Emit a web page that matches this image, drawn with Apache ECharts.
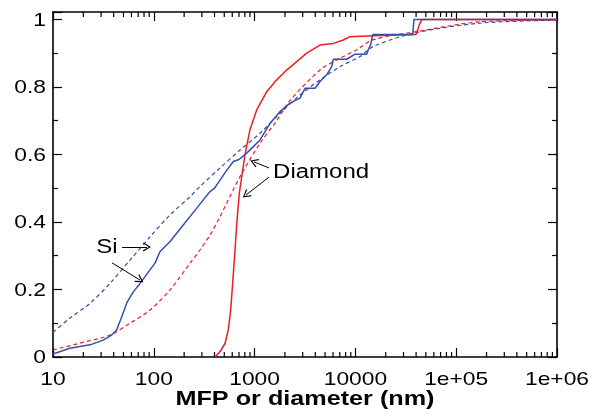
<!DOCTYPE html>
<html><head><meta charset="utf-8">
<script src="https://cdn.jsdelivr.net/npm/echarts@6/dist/echarts.min.js"></script>
<style>html,body{margin:0;padding:0;background:#fff}#c{width:605px;height:418px}</style>
</head><body><div id="c"></div>
<script>
// Si MFP accumulation (blue solid)
const siMfpX = [10, 14.7, 23.3, 31.5, 38.2, 42.8, 48.1, 53.9, 62.6, 73, 91.6, 102.8, 115, 145, 196, 267, 361, 400, 454, 520, 615, 700, 835, 1132, 1423, 1787, 2245, 2820, 3162, 3973, 4457, 5190, 5820, 6040, 8200, 9910, 12940, 13430, 14190, 14860, 37000, 38100, 1000000];
const siMfpY = [0.009, 0.026, 0.036, 0.050, 0.065, 0.080, 0.119, 0.160, 0.193, 0.218, 0.258, 0.278, 0.312, 0.342, 0.391, 0.441, 0.490, 0.500, 0.524, 0.550, 0.579, 0.585, 0.604, 0.643, 0.692, 0.727, 0.752, 0.767, 0.796, 0.796, 0.816, 0.836, 0.860, 0.882, 0.882, 0.897, 0.897, 0.910, 0.926, 0.955, 0.955, 1.0, 1.0];
// Diamond MFP accumulation (red solid)
const diaMfpX = [405, 454, 509, 548, 579, 606, 639, 674, 705, 745, 804, 899, 1049, 1319, 1657, 2081, 2616, 3288, 4457, 6040, 7590, 8840, 14800, 15070, 39800, 41500, 43100, 45500, 1000000];
const diaMfpY = [0, 0.016, 0.04, 0.08, 0.139, 0.218, 0.317, 0.416, 0.485, 0.534, 0.600, 0.673, 0.732, 0.786, 0.821, 0.850, 0.875, 0.900, 0.924, 0.929, 0.939, 0.949, 0.952, 0.955, 0.955, 0.969, 0.984, 1.0, 1.0];
// Si diameter accumulation (blue dashed)
const siDiamX = [10, 14.7, 23.3, 36.7, 58.1, 91.6, 145, 229, 287, 454, 716, 1132, 1787, 2820, 4457, 7030, 11120, 15070, 37600, 172000, 1000000];
const siDiamY = [0.073, 0.115, 0.159, 0.218, 0.287, 0.356, 0.421, 0.475, 0.505, 0.560, 0.613, 0.663, 0.722, 0.776, 0.821, 0.860, 0.890, 0.920, 0.959, 0.989, 0.998];
// Diamond diameter accumulation (red dashed)
const diaDiamX = [10, 18.5, 36.7, 58.1, 91.6, 145, 229, 287, 361, 454, 716, 1132, 1657, 2245, 4457, 7030, 10300, 15070, 40500, 172000, 1000000];
const diaDiamY = [0.021, 0.041, 0.065, 0.100, 0.139, 0.199, 0.278, 0.317, 0.361, 0.416, 0.534, 0.633, 0.700, 0.760, 0.850, 0.885, 0.910, 0.940, 0.964, 0.993, 0.998];

// tick labels
const xTickVals = [10, 100, 1000, 10000, 100000, 1000000];
const xTickText = ['10', '100', '1000', '10000', '1e+05', '1e+06'];
const yTickVals = [0, 0.2, 0.4, 0.6, 0.8, 1];
const yTickText = ['0', '0.2', '0.4', '0.6', '0.8', '1'];
const minorTickX = [];
[10, 100, 1000, 10000, 100000].forEach(d => { for (let k = 2; k <= 9; k++) minorTickX.push(d * k); });

// annotations: [x, y, text, align]
const annotText = [[34.3, 0.323, 'Si', 'center'], [1524, 0.548, 'Diamond', 'left']];
const arrows = [
  [[48.4, 0.326], [85.6, 0.326]],
  [[38.5, 0.279], [72.9, 0.228]],
  [[1390, 0.560], [986, 0.578]],
  [[1390, 0.533], [822, 0.480]]
];

const BLUE = '#3350ad', RED = '#ee1d23';
const FONT = '"Liberation Sans", Arial, Helvetica, sans-serif';
const YMAX = 1.022;
const SX = 1.2;

const pairs = (xs, ys) => xs.map((x, i) => [x, ys[i]]);
const chart = echarts.init(document.getElementById('c'));

const axisLine = {show: true, onZero: false, lineStyle: {color: '#000', width: 1.6}};
const majTick = {inside: true, length: 9, lineStyle: {color: '#000', width: 1.2}};
const minTick = {show: true, splitNumber: 2, length: 5, lineStyle: {color: '#000', width: 1.2}};
const CHEVRON = 'path://M5,0 L10,9 L8.8,9.6 L5,2.6 L1.2,9.6 L0,9 Z';

chart.setOption({
  animation: false,
  grid: {left: 53, right: 48, top: 12, bottom: 61},
  graphic: [{type: 'text', x: 305, y: 399, scaleX: SX, silent: true,
    style: {text: 'MFP or diameter (nm)', fill: '#000', font: 'bold 21px ' + FONT, align: 'center', verticalAlign: 'middle'}}],
  xAxis: [{
    type: 'log', logBase: 10, min: 10, max: 1000000, position: 'bottom',
    axisLine, splitLine: {show: false}, axisTick: majTick, axisLabel: {show: false}
  }, {
    type: 'log', logBase: 10, min: 10, max: 1000000, position: 'top',
    axisLine, splitLine: {show: false}, axisTick: majTick, axisLabel: {show: false}
  }],
  yAxis: [{
    type: 'value', min: 0, max: YMAX, interval: 0.2, position: 'left',
    axisLine, splitLine: {show: false}, axisTick: majTick, minorTick: minTick, axisLabel: {show: false}
  }, {
    type: 'value', min: 0, max: YMAX, interval: 0.2, position: 'right',
    axisLine, splitLine: {show: false}, axisTick: majTick, minorTick: minTick, axisLabel: {show: false}
  }],
  series: [
    // minor log ticks on bottom and top
    {type: 'custom', silent: true, clip: false,
      data: minorTickX.map(v => [v, 0]),
      renderItem: (params, api) => {
        const b = api.coord([api.value(0), 0]);
        const t = api.coord([api.value(0), YMAX]);
        const st = {stroke: '#000', lineWidth: 1.2};
        return {type: 'group', children: [
          {type: 'line', shape: {x1: b[0], y1: b[1], x2: b[0], y2: b[1] - 5}, style: st},
          {type: 'line', shape: {x1: t[0], y1: t[1], x2: t[0], y2: t[1] + 5}, style: st}
        ]};
      }},
    // x tick labels
    {type: 'custom', silent: true, clip: false,
      data: xTickVals.map((v, i) => [v, 0, i]),
      renderItem: (params, api) => {
        const p = api.coord([api.value(0), 0]);
        return {type: 'text', x: p[0], y: p[1] + 23, scaleX: SX,
          style: {text: xTickText[api.value(2)], fill: '#000', font: '19px ' + FONT, align: 'center', verticalAlign: 'middle'}};
      }},
    // y tick labels
    {type: 'custom', silent: true, clip: false,
      data: yTickVals.map((v, i) => [10, v, i]),
      renderItem: (params, api) => {
        const p = api.coord([10, api.value(1)]);
        return {type: 'text', x: p[0] - 7, y: p[1] + 1, scaleX: SX,
          style: {text: yTickText[api.value(2)], fill: '#000', font: '19px ' + FONT, align: 'right', verticalAlign: 'middle'}};
      }},
    {type: 'line', data: pairs(siDiamX, siDiamY), showSymbol: false, smooth: 0.3,
      lineStyle: {color: BLUE, width: 1.2, type: [4, 3]}},
    {type: 'line', data: pairs(diaDiamX, diaDiamY), showSymbol: false, smooth: 0.3,
      lineStyle: {color: RED, width: 1.2, type: [4, 3]}},
    {type: 'line', data: pairs(diaMfpX, diaMfpY), showSymbol: false,
      lineStyle: {color: RED, width: 1.5}},
    {type: 'line', data: pairs(siMfpX, siMfpY), showSymbol: false,
      lineStyle: {color: BLUE, width: 1.5},
      markLine: {silent: true, symbol: ['none', CHEVRON], symbolSize: [9, 8],
        itemStyle: {color: '#000'},
        lineStyle: {color: '#000', width: 1, type: 'solid'}, label: {show: false},
        data: arrows.map(a => [{coord: a[0]}, {coord: a[1]}])}},
    // annotation text
    {type: 'custom', silent: true, clip: false,
      data: annotText.map((a, i) => [a[0], a[1], i]),
      renderItem: (params, api) => {
        const a = annotText[api.value(2)];
        const p = api.coord([a[0], a[1]]);
        return {type: 'text', x: p[0], y: p[1], scaleX: SX,
          style: {text: a[2], fill: '#000', font: '20px ' + FONT, align: a[3], verticalAlign: 'middle'}};
      }}
  ]
});
</script></body></html>
